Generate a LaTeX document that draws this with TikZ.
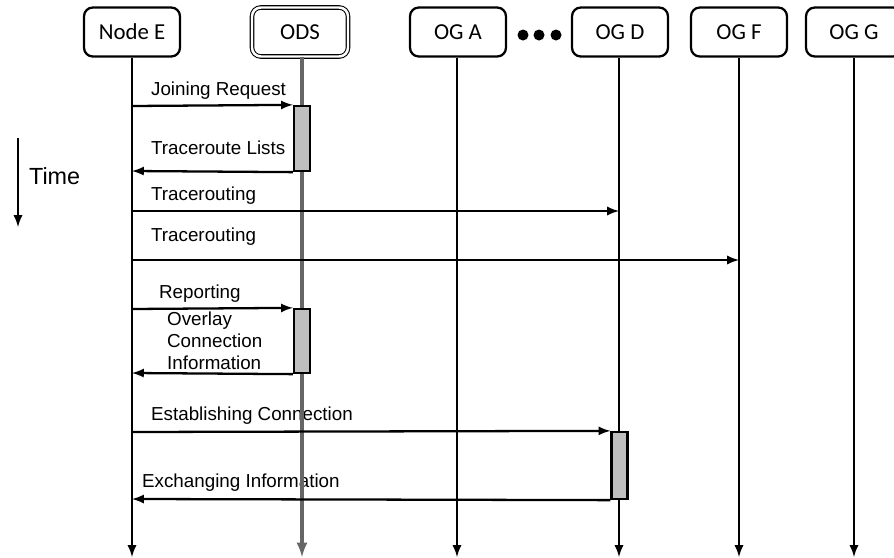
\documentclass[tikz,border=0pt]{standalone}
\usepackage{fontspec}
\setmainfont{Liberation Sans}
\newfontfamily\calibri{Carlito}
\begin{document}
\begin{tikzpicture}[x=0.02cm, y=-0.02cm, >=latex, line width=1.3pt,
  actor/.style={draw, rounded corners=5pt, minimum width=1.92cm, minimum height=0.98cm, font=\calibri\fontsize{13}{15}\selectfont},
  attivo/.style={draw, fill=gray!50, minimum width=0.32cm, inner sep=0pt},
  msg/.style={font=\fontsize{10.7}{12.5}\selectfont, anchor=west, inner sep=0pt}]
  \useasboundingbox (0,0) rectangle (894,558);

  % Nodi
  \node[actor] (E) at (132,32) {Node E};
  \node[actor, double, line width=0.6pt, double distance=1.4pt] (ODS) at (300,32) {ODS};
  \node[actor] (OGA) at (458,32) {OG A};
  \node[actor] (OGD) at (620,32) {OG D};
  \node[actor] (OGF) at (739,32) {OG F};
  \node[actor] (OGG) at (854,32) {OG G};
  \foreach \x in {523,539,556}
    \fill (\x,35) circle (0.11cm);

  % Tempo
  \coordinate (t1) at (18,138);
  \coordinate (t2) at (18,227);
  \draw[->] (t1) -- (t2);
  \node[anchor=west, inner sep=0pt, font=\fontsize{13.3}{15}\selectfont] (T) at (28,176) {Time};

  % Etichette
  \node[msg] (l1) at (150,91) {Joining Request};
  \node[msg] (l2) at (150,148) {Traceroute Lists};
  \node[msg] (l3) at (150,196) {Tracerouting};
  \node[msg] (l4) at (150,237) {Tracerouting};
  \node[msg] (l5) at (158,294) {Reporting};
  \node[msg, align=left] (l6) at (166,341) {Overlay\\Connection\\Information};
  \node[msg] (l7) at (150,416) {Establishing Connection};
  \node[msg] (l8) at (141,483) {Exchanging Information};

  % Linee di vita
  \coordinate (Eb) at (132,557);
  \coordinate (ODSb) at (302,557);
  \coordinate (OGAb) at (457,557);
  \coordinate (OGDb) at (619,557);
  \coordinate (OGFb) at (739,557);
  \coordinate (OGGb) at (854,557);
  \draw[->] (E.south) -- (Eb);
  \draw[->, draw=gray!80!black, line width=1.8pt] (ODS.south -| ODSb) -- (ODSb);
  \draw[->] (OGA.south -| OGAb) -- (OGAb);
  \draw[->] (OGD.south -| OGDb) -- (OGDb);
  \draw[->] (OGF.south) -- (OGFb);
  \draw[->] (OGG.south) -- (OGGb);

  % Attivazioni
  \node[attivo, minimum height=1.3cm] (A1) at (302,138.5) {};
  \node[attivo, minimum height=1.28cm] (A2) at (302,341) {};
  \node[attivo, minimum height=1.34cm] (A3) at (619.5,465.5) {};

  % Messaggi
  \coordinate (m1) at (132,106);
  \coordinate (m2) at (132,171);
  \coordinate (m3) at (132,211);
  \coordinate (m4) at (132,260);
  \coordinate (m5) at (132,309);
  \coordinate (m6) at (132,373);
  \coordinate (m7) at (132,432);
  \coordinate (m8) at (132,499);
  \draw[->] (m1) -- (A1.north west);
  \draw[->] (A1.south west) -- (m2);
  \draw[->] (m3) -- (m3 -| OGDb);
  \draw[->] (m4) -- (m4 -| OGFb);
  \draw[->] (m5) -- (A2.north west);
  \draw[->] (A2.south west) -- (m6);
  \draw[->] (m7) -- (A3.north west);
  \draw[->] (A3.south west) -- (m8);
\end{tikzpicture}
\end{document}
